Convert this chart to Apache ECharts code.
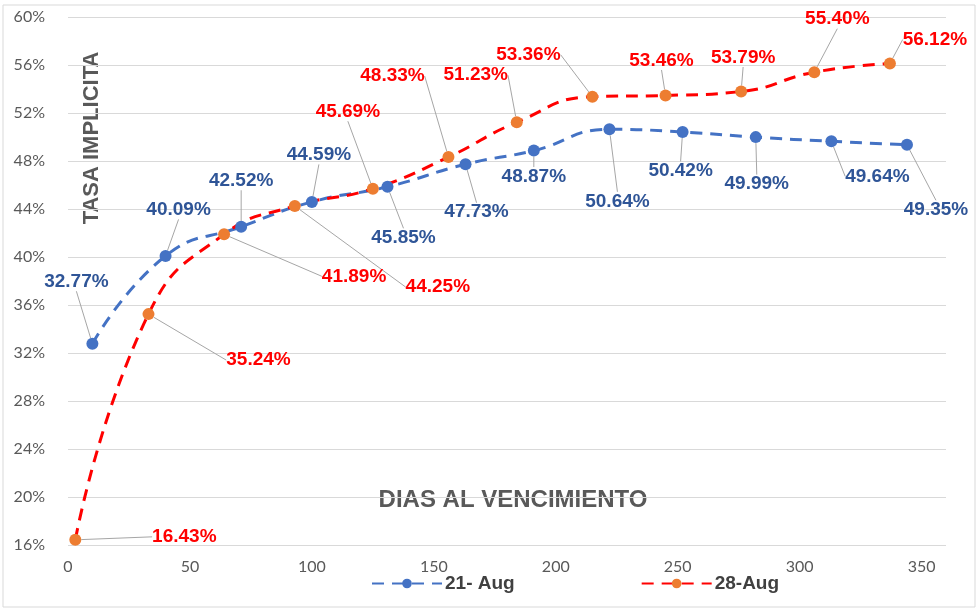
<!DOCTYPE html>
<html>
<head>
<meta charset="utf-8">
<script src="https://cdn.jsdelivr.net/npm/echarts@6/dist/echarts.min.js"></script>
<style>
  html, body { margin: 0; padding: 0; background: #fff; }
  #chart { width: 980px; height: 611px; }
</style>
</head>
<body>
<div id="chart"></div>
<script>
  // dias al vencimiento / tasa implicita
  const diasAug21 = [10, 40, 71, 100, 131, 163, 191, 222, 252, 282, 313, 344]
  const tasaAug21 = [0.3277, 0.4009, 0.4252, 0.4459, 0.4585, 0.4773, 0.4887, 0.5064, 0.5042, 0.4999, 0.4964, 0.4935]
  const diasAug28 = [3, 33, 64, 93, 125, 156, 184, 215, 245, 276, 306, 337]
  const tasaAug28 = [0.1643, 0.3524, 0.4189, 0.4425, 0.4569, 0.4833, 0.5123, 0.5336, 0.5346, 0.5379, 0.5540, 0.5612]
  const seriesNames = ['21- Aug', '28-Aug']

  // label offsets from each point (px), like the excel labels dragged by hand
  const labelOffsets = [
    [[-16, -62], [13, -46], [0, -46], [7, -47], [16, 51], [11, 48], [0, 26], [8, 72], [-2, 39], [1, 47], [46, 35], [29, 65]],
    [[109, -3], [110, 46], [130, 42], [143, 81], [-25, -77], [-56, -81], [-41, -47], [-64, -42], [-4, -35], [2, -34], [23, -53], [45, -24]]
  ]

  const pct = v => (v * 100).toFixed(2) + '%'
  const font = 'Lato, "Noto Sans", sans-serif'
  const boldFont = '"Liberation Sans", Arial, sans-serif'

  let myChart = echarts.init(document.getElementById('chart'))

  function makeSeries (name, xs, ys, lineColor, dotColor, labelColor) {
    return {
      name: name,
      type: 'line',
      smooth: true,
      data: xs.map((x, i) => [x, ys[i]]),
      symbol: 'circle',
      symbolSize: 12,
      lineStyle: { color: lineColor, width: 3, type: [12, 8] },
      itemStyle: { color: dotColor },
      label: {
        show: true,
        position: 'inside',
        formatter: p => pct(p.value[1]),
        color: labelColor,
        fontFamily: boldFont,
        fontWeight: 'bold',
        fontSize: 19
      },
      labelLine: {
        show: true,
        lineStyle: { color: '#a6a6a6', width: 1 }
      },
      labelLayout: function (params) {
        let off = labelOffsets[params.seriesIndex][params.dataIndex]
        return { dx: off[0], dy: off[1] }
      }
    }
  }

  let option = {
    animation: false,
    backgroundColor: '#fff',
    grid: { left: 68, right: 34, top: 17, bottom: 66 },
    legend: {
      data: seriesNames,
      left: 366,
      top: 569,
      itemWidth: 70,
      itemHeight: 12,
      itemGap: 126,
      textStyle: { color: '#404040', fontFamily: boldFont, fontWeight: 'bold', fontSize: 19, padding: [0, 0, 0, -2] }
    },
    xAxis: {
      type: 'value',
      min: 0,
      max: 360,
      interval: 50,
      axisLine: { show: false },
      axisTick: { show: false },
      splitLine: { show: false },
      axisLabel: { color: '#595959', fontFamily: font, fontSize: 16, margin: 14, showMaxLabel: false }
    },
    yAxis: {
      type: 'value',
      min: 0.16,
      max: 0.60,
      interval: 0.04,
      axisLine: { show: false },
      axisTick: { show: false },
      splitLine: { lineStyle: { color: '#d9d9d9', width: 1 } },
      axisLabel: {
        color: '#595959', fontFamily: font, fontSize: 16, margin: 23,
        formatter: v => Math.round(v * 100) + '%'
      }
    },
    graphic: [
      {
        type: 'rect',
        shape: { x: 3, y: 5, width: 972, height: 602 },
        style: { fill: 'none', stroke: '#d9d9d9', lineWidth: 1 },
        silent: true
      },
      {
        type: 'text',
        x: 92,
        y: 138,
        rotation: Math.PI / 2,
        style: {
          text: 'TASA IMPLICITA',
          fill: '#595959',
          font: 'bold 22px ' + boldFont,
          align: 'center',
          verticalAlign: 'middle'
        }
      },
      {
        type: 'text',
        x: 513,
        y: 500,
        style: {
          text: 'DIAS AL VENCIMIENTO',
          fill: '#595959',
          font: 'bold 24px ' + boldFont,
          align: 'center',
          verticalAlign: 'middle'
        }
      }
    ],
    series: [
      makeSeries(seriesNames[0], diasAug21, tasaAug21, '#4472c4', '#4472c4', '#2f5597'),
      makeSeries(seriesNames[1], diasAug28, tasaAug28, '#ff0000', '#ed7d31', '#ff0000')
    ]
  }
  myChart.setOption(option)
</script>
</body>
</html>
